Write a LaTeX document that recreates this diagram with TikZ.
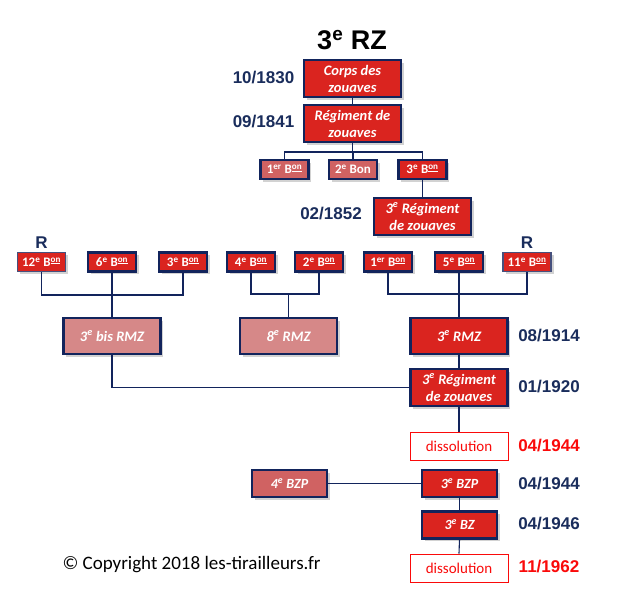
\documentclass[tikz,border=0pt]{standalone}
\usepackage{fontspec}
\setmainfont{Carlito}
\newfontfamily\arialf{Liberation Sans}
\usetikzlibrary{shadows}
\definecolor{zred}{RGB}{218,36,31}
\definecolor{zmid}{RGB}{208,98,98}
\definecolor{zlight}{RGB}{214,136,136}
\definecolor{navy}{RGB}{18,36,92}
\definecolor{thinnavy}{RGB}{70,80,125}
\definecolor{datecol}{RGB}{26,45,92}
\definecolor{redtxt}{RGB}{250,10,10}
\newcommand{\sups}[1]{\textsuperscript{#1}}
\newcommand{\Bon}{B\textsuperscript{\underline{on}}}
\tikzset{
  box/.style={draw=navy, line width=2.4pt, fill=zred, text=white, align=center,
    inner sep=0pt, drop shadow={shadow xshift=2.5pt, shadow yshift=-2.5pt, opacity=0.35, fill=gray}},
  bigbox/.style={box, minimum width=97pt, minimum height=37pt, font=\fontsize{14.5}{17}\selectfont\bfseries\itshape},
  midbox/.style={box, minimum width=75pt, minimum height=27pt, font=\fontsize{14}{16}\selectfont\bfseries\itshape},
  smallbox/.style={box, minimum width=48pt, minimum height=19pt, font=\fontsize{13}{14}\selectfont\bfseries},
  thinbox/.style={smallbox, draw=thinnavy, line width=1.2pt},
  dissbox/.style={draw=redtxt, line width=0.9pt, fill=white, text=redtxt, minimum width=98pt,
    minimum height=28pt, inner sep=0pt, font=\fontsize{15}{17}\selectfont},
  datel/.style={text=datecol, font=\arialf\bfseries\fontsize{17}{19}\selectfont},
  dater/.style={datel, text=redtxt},
  conn/.style={draw=navy, line width=1.1pt},
}
\begin{document}
\begin{tikzpicture}[x=1pt, y=-1pt]
\useasboundingbox[fill=white] (0,0) rectangle (641,611);
% title
\node[font=\arialf\bfseries\fontsize{27}{30}\selectfont] (title) at (352,40) {3\sups{e} RZ};
% top chain
\node[bigbox] (corps) at (352.5,78.5) {Corps des\\zouaves};
\node[bigbox] (reg) at (352.5,123.5) {Régiment de\\zouaves};
\node[datel] (d1830) at (263.5,78) {10/1830};
\node[datel] (d1841) at (263.5,122) {09/1841};
\node[smallbox, fill=zmid] (b1) at (284.5,169.5) {1\sups{er} \Bon};
\node[smallbox, fill=zmid] (b2) at (353,169.5) {2\sups{e} Bon};
\node[smallbox] (b3) at (422.5,169.5) {3\sups{e} \Bon};
\coordinate (j1) at (352.5,152);
\node[bigbox] (rz52) at (422.5,216.5) {3\sups{e} Régiment\\de zouaves};
\node[datel] (d1852) at (331,214) {02/1852};
% battalion row
\node[thinbox] (r12) at (41.5,262) {12\sups{e} \Bon};
\node[smallbox] (r6) at (112,262) {6\sups{e} \Bon};
\node[smallbox] (r3) at (183,262) {3\sups{e} \Bon};
\node[smallbox] (r4) at (251,262) {4\sups{e} \Bon};
\node[smallbox] (r2) at (319,262) {2\sups{e} \Bon};
\node[smallbox] (r1) at (388,262) {1\sups{er} \Bon};
\node[smallbox] (r5) at (459,262) {5\sups{e} \Bon};
\node[thinbox] (r11) at (527,262) {11\sups{e} \Bon};
\node[datel] (R1) at (41.5,243) {R};
\node[datel] (R2) at (527,243) {R};
\coordinate (j2) at (112,295);
\coordinate (j3) at (288.5,294);
\coordinate (j4) at (459,294);
% RMZ row
\node[bigbox, fill=zlight, minimum height=36pt] (bis) at (112,336) {3\sups{e} bis RMZ};
\node[bigbox, fill=zlight, minimum height=36pt] (rmz8) at (288.5,336) {8\sups{e} RMZ};
\node[bigbox, minimum height=36pt] (rmz3) at (459,336) {3\sups{e} RMZ};
\node[datel] (d1914) at (549,336) {08/1914};
\node[bigbox] (rz20) at (459,387.5) {3\sups{e} Régiment\\de zouaves};
\node[datel] (d1920) at (549,387) {01/1920};
\node[dissbox] (diss1) at (459,446) {dissolution};
\node[dater] (d1944a) at (549,446) {04/1944};
\node[midbox, fill=zmid] (bzp4) at (289.5,483.5) {4\sups{e} BZP};
\node[midbox] (bzp3) at (459.5,483.5) {3\sups{e} BZP};
\node[datel] (d1944b) at (549,484) {04/1944};
\node[midbox] (bz3) at (459.5,525) {3\sups{e} BZ};
\node[datel] (d1946) at (549,524) {04/1946};
\node[dissbox] (diss2) at (459,568) {dissolution};
\node[dater] (d1962) at (549,567) {11/1962};
\node[font=\fontsize{19}{21}\selectfont, anchor=west] (copy) at (59,565) {© Copyright 2018 les-tirailleurs.fr};
% connectors
\draw[conn] (corps.south) -- (reg.north);
\draw[conn] (reg.south) -- (j1);
\draw[conn] (b1.north) |- (j1) -| (b3.north);
\draw[conn] (b2.north) -- (b2.north |- j1);
\draw[conn] (b3.south) -- (rz52.north);
\draw[conn] (r12.south) |- (j2) -| (r3.south);
\draw[conn] (r6.south) -- (bis.north);
\draw[conn] (r4.south) |- (j3) -| (r2.south);
\draw[conn] (j3) -- (rmz8.north);
\draw[conn] (r1.south) |- (j4) -| (r11.south);
\draw[conn] (r5.south) -- (rmz3.north);
\draw[conn] (rmz3.south) -- (rz20.north);
\draw[conn] (bis.south) |- (rz20.west);
\draw[conn] (rz20.south) -- (diss1.north);
\draw[conn] (bzp4.east) -- (bzp3.west);
\draw[conn] (bzp3.south) -- (bz3.north);
\draw[conn] (bz3.south) -- (diss2.north);
\end{tikzpicture}
\end{document}
